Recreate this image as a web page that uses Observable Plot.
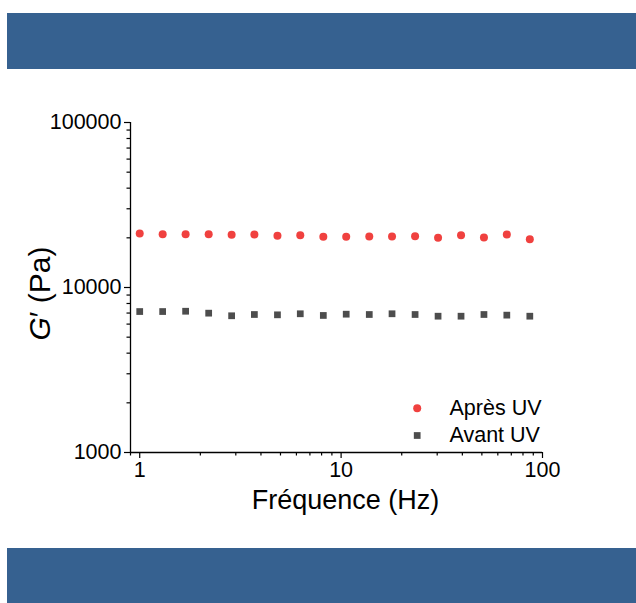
<!DOCTYPE html>
<html><head><meta charset="utf-8">
<script src="https://cdn.jsdelivr.net/npm/d3@7"></script>
<script src="https://cdn.jsdelivr.net/npm/@observablehq/plot@0.6"></script>
<style>
html,body{margin:0;padding:0;background:#fff;}
#wrap{position:relative;width:636px;height:603px;overflow:hidden;font-family:"Liberation Sans",Arial,sans-serif;}
.bar{position:absolute;left:7px;right:0;background:#366190;}
#chart{position:absolute;left:0;top:0;}
</style></head><body>
<div id="wrap"><div id="chart"></div><div class="bar" style="top:13px;height:56px"></div><div class="bar" style="top:548px;height:55px"></div></div>
<script>
// ---- data ----
const freq = [1, 1.3, 1.69, 2.2, 2.86, 3.71, 4.83, 6.27, 8.16, 10.6, 13.8, 17.9, 23.3, 30.3, 39.4, 51.2, 66.5, 86.5];
const apresUV = [21250, 21040, 21040, 21040, 20860, 20950, 20580, 20750, 20290, 20290, 20380, 20380, 20460, 20010, 20750, 20090, 20950, 19620];
const avantUV = [7150, 7150, 7180, 6990, 6740, 6860, 6830, 6930, 6770, 6890, 6860, 6930, 6860, 6700, 6700, 6860, 6800, 6700];
const seriesNames = ["Après UV", "Avant UV"];
const xMajor = [1, 10, 100];
const xMinor = [0.9, 2, 3, 4, 5, 6, 7, 8, 9, 20, 30, 40, 50, 60, 70, 80, 90];
const yMajor = [1000, 10000, 100000];
const yMinor = [2000, 3000, 4000, 5000, 6000, 7000, 8000, 9000, 20000, 30000, 40000, 50000, 60000, 70000, 80000, 90000];
const xTitle = "Fréquence (Hz)";
const yTitle = "G′ (Pa)";

const red = "#f0413f", grey = "#4d4d4d";
const apres = freq.map((f, i) => ({f, g: apresUV[i]}));
const avant = freq.map((f, i) => ({f, g: avantUV[i]}));

const font = "'Liberation Sans', Arial, sans-serif";
const plot = Plot.plot({
  width: 636, height: 603,
  marginLeft: 130, marginRight: 94, marginTop: 122, marginBottom: 151,
  style: {fontFamily: font, background: "transparent", color: "#000", overflow: "visible"},
  x: {type: "log", domain: [0.9, 100], label: null},
  y: {type: "log", domain: [1000, 100000], label: null},
  marks: [
    Plot.axisX({ticks: xMinor, tickSize: 3.5, tickFormat: () => "", strokeWidth: 1.2, label: null}),
    Plot.axisX({ticks: xMajor, tickSize: 6, tickPadding: 3, fontSize: 21.5, tickFormat: d => String(d), strokeWidth: 1.2, label: null}),
    Plot.axisY({ticks: yMinor, tickSize: 3.5, tickFormat: () => "", strokeWidth: 1.2, label: null}),
    Plot.axisY({ticks: yMajor, tickSize: 6, tickPadding: 3, fontSize: 21.5, tickFormat: d => String(d), strokeWidth: 1.2, label: null}),
    Plot.ruleY([1000], {stroke: "#000", strokeWidth: 1.3}),
    Plot.ruleX([0.9], {stroke: "#000", strokeWidth: 1.3}),
    Plot.dot(apres, {x: "f", y: "g", r: 4, fill: red, symbol: "circle"}),
    Plot.dot(avant, {x: "f", y: "g", r: 3.8, fill: grey, symbol: "square"}),
    Plot.text([xTitle], {text: d => d, frameAnchor: "bottom", dx: 9, dy: 48, fontSize: 27, lineAnchor: "middle"}),
    Plot.text([yTitle], {text: d => d, frameAnchor: "left", dx: -90, dy: 6, rotate: -90, fontSize: 30, textAnchor: "middle", lineAnchor: "middle"}),
    Plot.dot([seriesNames[0]], {frameAnchor: "bottom-right", dx: -125.3, dy: -44.3, r: 4, fill: red, symbol: "circle"}),
    Plot.dot([seriesNames[1]], {frameAnchor: "bottom-right", dx: -125.3, dy: -17, r: 3.8, fill: grey, symbol: "square"}),
    Plot.text([seriesNames[0]], {text: d => d, frameAnchor: "bottom-right", dx: -93, dy: -44.3, textAnchor: "start", fontSize: 21.5, lineAnchor: "middle"}),
    Plot.text([seriesNames[1]], {text: d => d, frameAnchor: "bottom-right", dx: -93, dy: -17, textAnchor: "start", fontSize: 21.5, lineAnchor: "middle"})
  ]
});
document.getElementById("chart").appendChild(plot);
// italic G in the y title
for (const t of plot.querySelectorAll("text")) {
  if (t.textContent === yTitle) {
    t.textContent = "";
    const ns = "http://www.w3.org/2000/svg";
    const a = document.createElementNS(ns, "tspan"); a.setAttribute("font-style", "italic"); a.textContent = "G";
    const b = document.createElementNS(ns, "tspan"); b.textContent = "′ (Pa)";
    t.appendChild(a); t.appendChild(b);
  }
}
</script>
</body></html>
